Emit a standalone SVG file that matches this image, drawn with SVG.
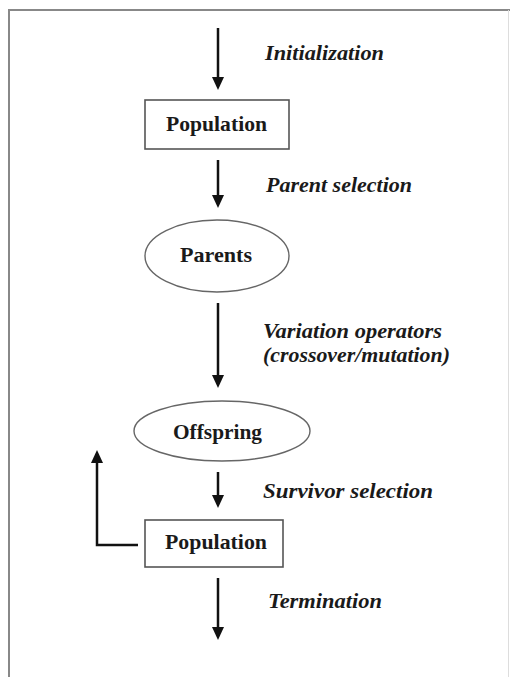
<svg xmlns="http://www.w3.org/2000/svg" width="510" height="677" viewBox="0 0 510 677">
<style>
.lbl{font-family:"Liberation Serif",serif;font-weight:bold;font-style:italic;font-size:20.5px;fill:#1a1a1a}
.nt{font-family:"Liberation Serif",serif;font-weight:bold;font-size:21px;fill:#1a1a1a;text-anchor:middle}
.box{fill:#fff;stroke:#555;stroke-width:1.6}
.ell{fill:#fff;stroke:#666;stroke-width:1.4}
.arr{stroke:#111;stroke-width:2.5;fill:none}
.head{fill:#111}
</style>
<rect width="510" height="677" fill="#fff"/>
<path d="M9,677 L9,10 L510,10" fill="none" stroke="#888" stroke-width="2"/>
<line x1="508.5" y1="10" x2="508.5" y2="677" stroke="#ddd" stroke-width="1"/>

<g id="connectors">
<line class="arr" x1="218" y1="28" x2="218" y2="78"/>
<path class="head" d="M212,77 L224,77 L218,90 Z"/>
<line class="arr" x1="218" y1="160" x2="218" y2="196"/>
<path class="head" d="M212,195 L224,195 L218,208 Z"/>
<line class="arr" x1="218" y1="303" x2="218" y2="376"/>
<path class="head" d="M212,375 L224,375 L218,388 Z"/>
<line class="arr" x1="218" y1="472" x2="218" y2="496"/>
<path class="head" d="M212,495 L224,495 L218,508 Z"/>
<line class="arr" x1="218" y1="578" x2="218" y2="628"/>
<path class="head" d="M212,627 L224,627 L218,640 Z"/>
<path class="arr" d="M138,545 L97,545 L97,462"/>
<path class="head" d="M91,463 L103,463 L97,450 Z"/>
<text class="lbl" x="265" y="60" textLength="119" lengthAdjust="spacingAndGlyphs">Initialization</text>
<text class="lbl" x="266" y="192" textLength="146" lengthAdjust="spacingAndGlyphs">Parent selection</text>
<text class="lbl" x="263" y="338" textLength="179" lengthAdjust="spacingAndGlyphs">Variation operators</text>
<text class="lbl" x="263" y="362" textLength="187" lengthAdjust="spacingAndGlyphs">(crossover/mutation)</text>
<text class="lbl" x="263" y="498" textLength="170" lengthAdjust="spacingAndGlyphs">Survivor selection</text>
<text class="lbl" x="268" y="608" textLength="114" lengthAdjust="spacingAndGlyphs">Termination</text>
</g>

<g id="population1">
<rect class="box" x="145" y="100" width="144" height="49"/>
<text class="nt" x="216.5" y="131" textLength="101" lengthAdjust="spacingAndGlyphs">Population</text>
</g>
<g id="parents">
<ellipse class="ell" cx="217" cy="256" rx="72" ry="36"/>
<text class="nt" x="216" y="262" textLength="72" lengthAdjust="spacingAndGlyphs">Parents</text>
</g>
<g id="offspring">
<ellipse class="ell" cx="222" cy="431" rx="88" ry="30"/>
<text class="nt" x="217.5" y="439" textLength="89" lengthAdjust="spacingAndGlyphs">Offspring</text>
</g>
<g id="population2">
<rect class="box" x="145" y="520" width="138" height="47"/>
<text class="nt" x="216" y="549" textLength="102" lengthAdjust="spacingAndGlyphs">Population</text>
</g>
</svg>
